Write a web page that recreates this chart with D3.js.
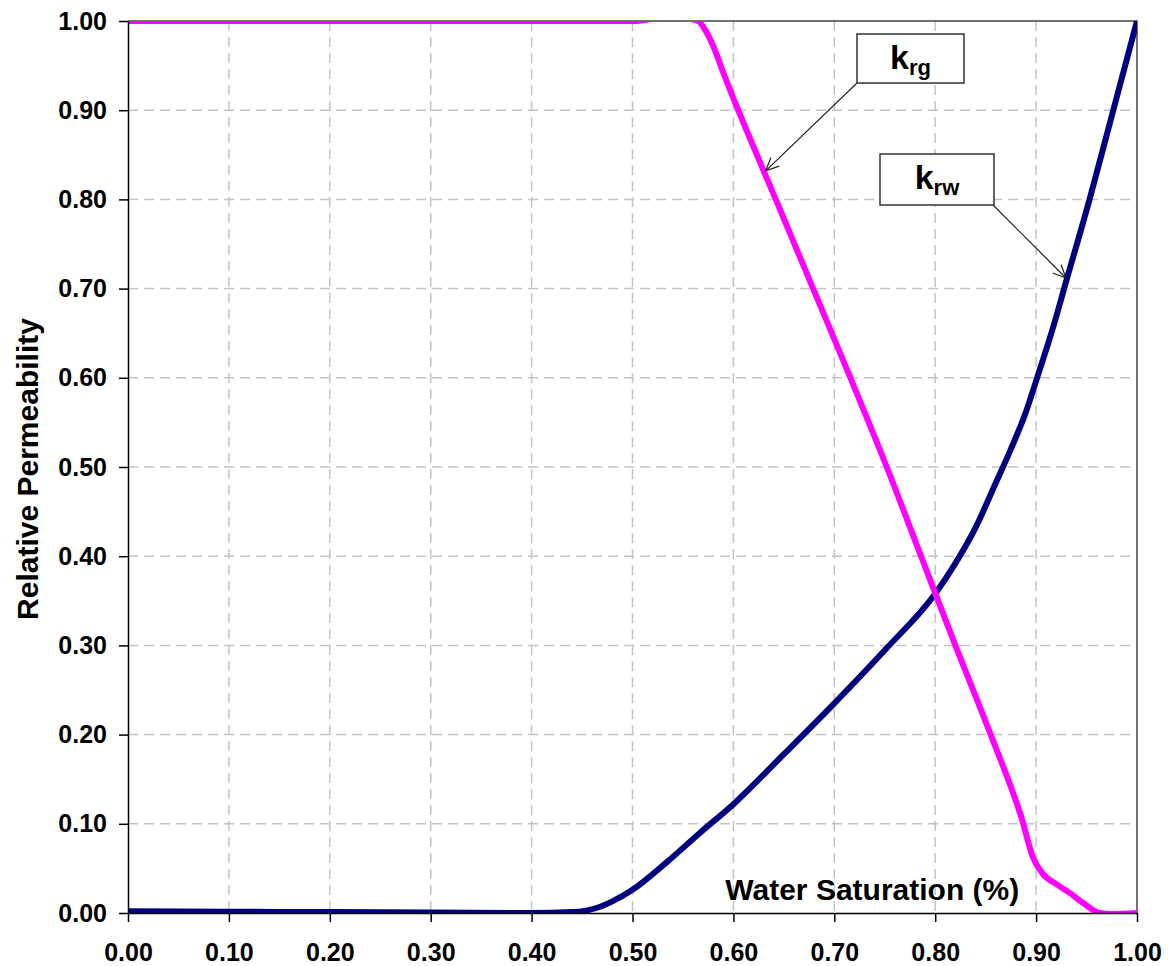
<!DOCTYPE html>
<html>
<head>
<meta charset="utf-8">
<script src="https://cdn.jsdelivr.net/npm/d3@7"></script>
<style>
    body { margin: 0; background: #fff; }
    svg { display: block; font-family: "Liberation Sans", Arial, sans-serif; }
</style>
</head>
<body>
<svg></svg>
<script>
// gas relative permeability (krg) vs water saturation
const swGas = [0, 0.1, 0.2, 0.3, 0.4, 0.5, 0.54, 0.565, 0.572, 0.58, 0.59, 0.603, 0.642, 0.679,
    0.716, 0.752, 0.786, 0.820, 0.855, 0.886, 0.897, 0.906, 0.922, 0.934, 0.947, 0.963, 0.976, 1.0];
const krg = [1, 1, 1, 1, 1, 1, 1.005, 1, 0.99, 0.972, 0.942, 0.905, 0.80, 0.70,
    0.60, 0.50, 0.40, 0.30, 0.20, 0.105, 0.062, 0.045, 0.031, 0.022, 0.011, 0.0, -0.001, 0.0];

// water relative permeability (krw) vs water saturation
const swWater = [0, 0.1, 0.2, 0.3, 0.4, 0.44, 0.455, 0.468, 0.48, 0.50, 0.534, 0.567, 0.60, 0.65,
    0.70, 0.752, 0.80, 0.82, 0.84, 0.86, 0.875, 0.89, 0.901, 0.917, 0.929, 0.953, 0.976, 1.0];
const krw = [0.002, 0.0015, 0.001, 0.0005, 0.0, 0.001, 0.003, 0.007, 0.013, 0.026, 0.057, 0.09, 0.122, 0.178,
    0.235, 0.297, 0.358, 0.392, 0.432, 0.482, 0.52, 0.562, 0.60, 0.657, 0.705, 0.80, 0.898, 1.0];

// tick values for both axes
const xTicks = [0, 0.1, 0.2, 0.3, 0.4, 0.5, 0.6, 0.7, 0.8, 0.9, 1.0];
const yTicks = [0, 0.1, 0.2, 0.3, 0.4, 0.5, 0.6, 0.7, 0.8, 0.9, 1.0];

// callout labels: box corner and arrow tip in data units
const calloutNames = ['rg', 'rw'];
const calloutBox = [[0.7225, 0.9854], [0.7453, 0.8509]];
const calloutTip = [[0.632, 0.832], [0.9296, 0.7119]];

const margin = {t: 21, r: 34, b: 53, l: 128};
const size = {w: 1171, h: 966};
const plot = {w: size.w - margin.l - margin.r, h: size.h - margin.t - margin.b};

const svg = d3.select('svg')
    .attr('width', size.w)
    .attr('height', size.h);

const x = d3.scaleLinear().domain([0, 1]).range([0, plot.w]);
const y = d3.scaleLinear().domain([0, 1]).range([plot.h, 0]);

const defs = svg.append('defs');
defs.append('clipPath').attr('id', 'plotClip')
    .append('rect').attr('width', plot.w).attr('height', plot.h);
defs.append('marker')
    .attr('id', 'arrow')
    .attr('markerUnits', 'userSpaceOnUse')
    .attr('viewBox', '0 0 14 14')
    .attr('markerWidth', 14).attr('markerHeight', 14)
    .attr('refX', 13).attr('refY', 7)
    .attr('orient', 'auto')
    .append('path')
    .attr('d', 'M0,1 L13,7 L0,13')
    .attr('fill', 'none')
    .attr('stroke', '#222')
    .attr('stroke-width', 1.2);

const g = svg.append('g')
    .attr('transform', 'translate(' + margin.l + ',' + margin.t + ')');

// dashed grid
g.append('g').selectAll('line')
    .data(xTicks.slice(1, -1)).enter().append('line')
    .attr('x1', d => x(d)).attr('x2', d => x(d))
    .attr('y1', 0).attr('y2', plot.h)
    .attr('stroke', '#c4c4c4').attr('stroke-width', 1.5)
    .attr('stroke-dasharray', '10,6');
g.append('g').selectAll('line')
    .data(yTicks.slice(1, -1)).enter().append('line')
    .attr('y1', d => y(d)).attr('y2', d => y(d))
    .attr('x1', 0).attr('x2', plot.w)
    .attr('stroke', '#c4c4c4').attr('stroke-width', 1.5)
    .attr('stroke-dasharray', '10,6');

// top and right frame
g.append('path')
    .attr('d', 'M0,0 H' + plot.w + ' V' + plot.h)
    .attr('fill', 'none').attr('stroke', '#444').attr('stroke-width', 1.5);

// curves
const line = d3.line()
    .x(d => x(d[0]))
    .y(d => y(d[1]))
    .curve(d3.curveMonotoneX);

const curves = g.append('g').attr('clip-path', 'url(#plotClip)');
curves.append('path')
    .datum(swWater.map((s, i) => [s, krw[i]]))
    .attr('d', line)
    .attr('fill', 'none').attr('stroke', '#000080').attr('stroke-width', 6)
    .attr('stroke-linejoin', 'round');
curves.append('path')
    .datum(swGas.map((s, i) => [s, krg[i]]))
    .attr('d', line)
    .attr('fill', 'none').attr('stroke', '#ff00ff').attr('stroke-width', 6)
    .attr('stroke-linejoin', 'round');

// axes
const xAxis = g.append('g')
    .attr('transform', 'translate(0,' + plot.h + ')')
    .call(d3.axisBottom(x).tickValues(xTicks).tickFormat(d3.format('.2f'))
        .tickSizeInner(9).tickSizeOuter(0).tickPadding(21));
const yAxis = g.append('g')
    .call(d3.axisLeft(y).tickValues(yTicks).tickFormat(d3.format('.2f'))
        .tickSizeInner(9).tickSizeOuter(0).tickPadding(12));

[xAxis, yAxis].forEach(a => {
    a.select('.domain').attr('stroke', '#000').attr('stroke-width', 1.5);
    a.selectAll('.tick line').attr('stroke', '#000').attr('stroke-width', 1.5);
    a.selectAll('.tick text')
        .attr('font-family', '"Liberation Sans", Arial, sans-serif')
        .attr('font-size', 25).attr('font-weight', 'bold').attr('fill', '#000');
});

// axis titles
svg.append('text')
    .attr('transform', 'translate(38,' + (margin.t + plot.h / 2 + 2) + ') rotate(-90)')
    .attr('text-anchor', 'middle')
    .attr('font-size', 30).attr('font-weight', 'bold')
    .text('Relative Permeability');
g.append('text')
    .attr('x', x(0.592)).attr('y', y(0.015))
    .attr('font-size', 30).attr('font-weight', 'bold')
    .text('Water Saturation (%)');

// callouts
const boxW = [107, 114];
const boxH = [49, 51];
calloutNames.forEach((name, i) => {
    const bx = x(calloutBox[i][0]);
    const by = y(calloutBox[i][1]);
    const sx = i === 0 ? bx : bx + boxW[i] - 1;
    const sy = by + boxH[i];
    g.append('line')
        .attr('x1', sx).attr('y1', sy)
        .attr('x2', x(calloutTip[i][0])).attr('y2', y(calloutTip[i][1]))
        .attr('stroke', '#222').attr('stroke-width', 1.2)
        .attr('marker-end', 'url(#arrow)');
    g.append('rect')
        .attr('x', bx).attr('y', by)
        .attr('width', boxW[i]).attr('height', boxH[i])
        .attr('fill', '#fff').attr('stroke', '#333').attr('stroke-width', 1.5);
    const t = g.append('text')
        .attr('x', bx + boxW[i] / 2).attr('y', by + 35)
        .attr('text-anchor', 'middle').attr('font-weight', 'bold');
    t.append('tspan').attr('font-size', 34).text('k');
    t.append('tspan').attr('font-size', 22).attr('dy', 6).text(name);
});
</script>
</body>
</html>
